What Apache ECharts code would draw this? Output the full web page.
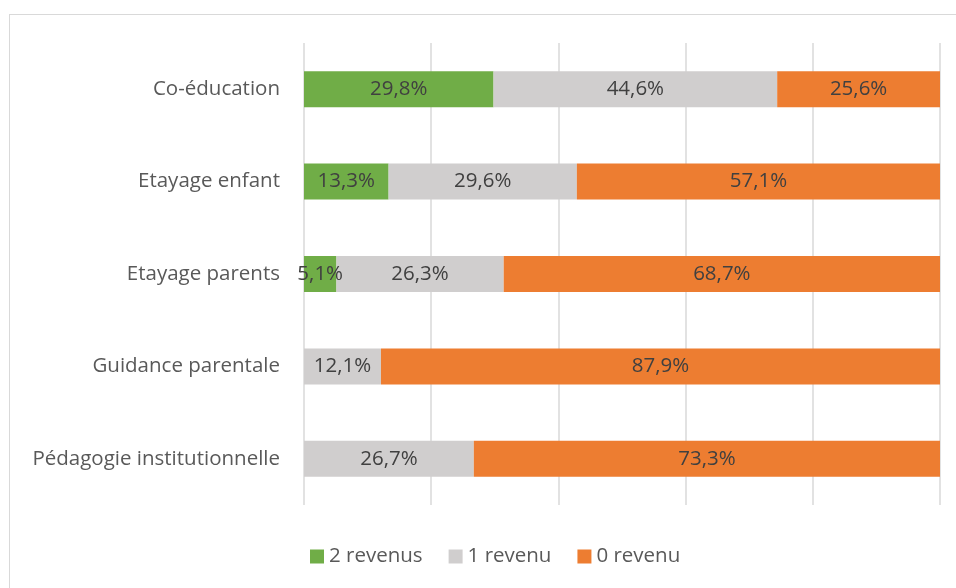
<!DOCTYPE html>
<html>
<head>
<meta charset="utf-8">
<script src="https://cdn.jsdelivr.net/npm/echarts@6/dist/echarts.min.js"></script>
<style>
  body { margin: 0; background: #fff; }
  .frame { position: absolute; left: 9px; top: 14px; width: 1000px; height: 1000px; border: 1px solid #d9d9d9; }
  #chart { position: absolute; left: 0; top: 0; width: 956px; height: 588px; }
</style>
</head>
<body>
<div class="frame"></div>
<div id="chart"></div>
<script>
var categories = ['Co-éducation', 'Etayage enfant', 'Etayage parents', 'Guidance parentale', 'Pédagogie institutionnelle'];
var deuxRevenus = [29.8, 13.3, 5.1, 0, 0];
var unRevenu = [44.6, 29.6, 26.3, 12.1, 26.7];
var zeroRevenu = [25.6, 57.1, 68.7, 87.9, 73.3];

var myChart = echarts.init(document.getElementById('chart'));
var font = '"Open Sans", sans-serif';
var fs = 20.5;

function label() {
  return {
    show: true,
    position: 'inside',
    color: '#404040',
    fontFamily: font,
    fontSize: fs,
    formatter: function (p) {
      if (!p.value) return '';
      return p.value.toFixed(1).replace('.', ',') + '%';
    }
  };
}

function serie(name, data, color) {
  return {
    name: name,
    type: 'bar',
    stack: 'total',
    barWidth: 36,
    itemStyle: { color: color },
    label: label(),
    data: data
  };
}

var option = {
  animation: false,
  grid: { left: 304, right: 16, top: 43, bottom: 83 },
  legend: {
    bottom: 16,
    left: 305,
    itemWidth: 14,
    itemHeight: 14,
    itemGap: 26,
    icon: 'rect',
    textStyle: { color: '#595959', fontFamily: font, fontSize: fs },
    data: ['2 revenus', '1 revenu', '0 revenu']
  },
  xAxis: {
    type: 'value',
    min: 0,
    max: 100,
    interval: 20,
    axisLabel: { show: false },
    axisLine: { show: false },
    axisTick: { show: false },
    splitLine: { lineStyle: { color: '#d9d9d9', width: 1.5 } }
  },
  yAxis: {
    type: 'category',
    inverse: true,
    data: categories,
    axisLine: { show: false },
    axisTick: { show: false },
    axisLabel: { color: '#595959', fontFamily: font, fontSize: fs, margin: 24 }
  },
  series: [
    serie('2 revenus', deuxRevenus, '#70ad47'),
    serie('1 revenu', unRevenu, '#d0cece'),
    serie('0 revenu', zeroRevenu, '#ed7d31')
  ]
};
myChart.setOption(option);
</script>
</body>
</html>
